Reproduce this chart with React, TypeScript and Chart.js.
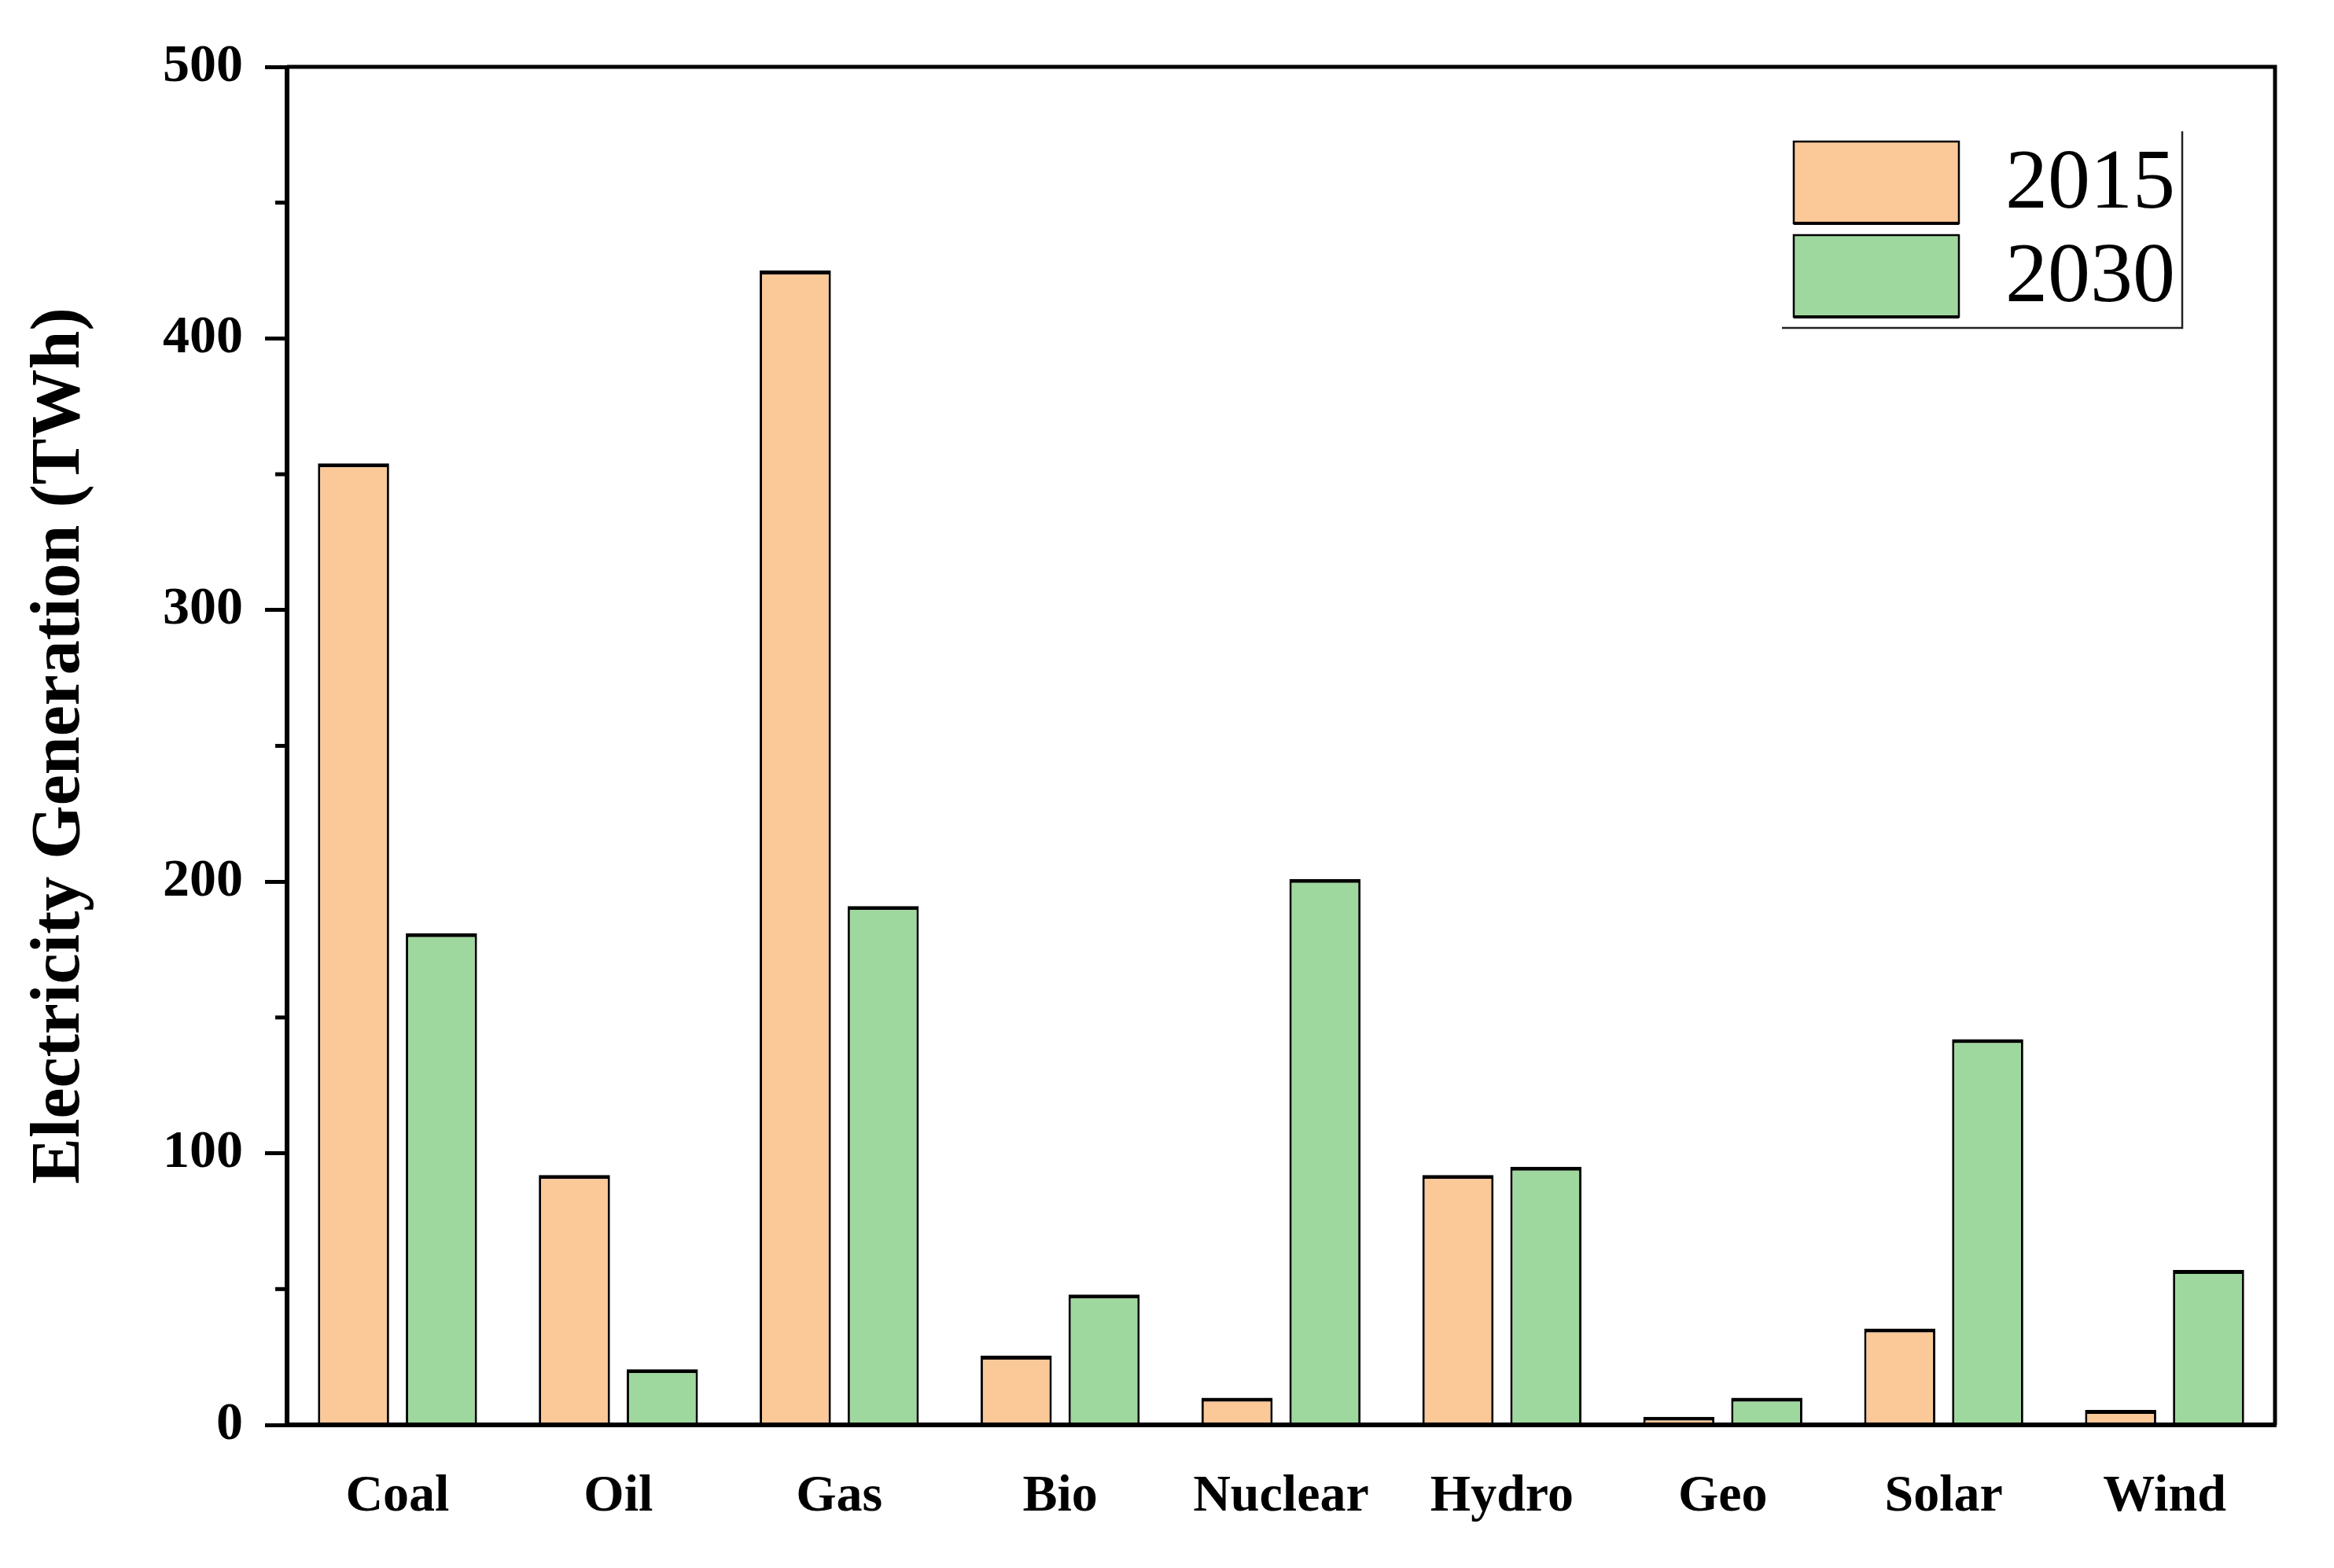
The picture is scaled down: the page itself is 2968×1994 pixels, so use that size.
import React, { useEffect, useRef } from 'react';
import { Chart, registerables } from 'chart.js';

Chart.register(...registerables);

const categories = ['Coal', 'Oil', 'Gas', 'Bio', 'Nuclear', 'Hydro', 'Geo', 'Solar', 'Wind'];
const values2015 = [354, 92, 425, 25.5, 10, 92, 3, 35.5, 5.5];
const values2030 = [181, 20.5, 191, 48, 201, 95, 10, 142, 57];
const seriesLabels = ['2015', '2030'];
const seriesColors = ['#FBC898', '#9ED89E'];
const yMin = 0;
const yMax = 500;
const yMajorStep = 100;
const yMinorTicks = [50, 150, 250, 350, 450];
const yTitle = 'Electricity Generation (TWh)';

const FONT = '"Liberation Serif", "Times New Roman", serif';

const framePlugin = {
  id: 'frameAndLegend',
  afterDatasetsDraw(chart: any) {
    const { ctx, chartArea } = chart;
    const { left, right, top, bottom } = chartArea;
    ctx.save();
    // minor ticks
    const yScale = chart.scales.y;
    ctx.strokeStyle = '#000';
    ctx.lineWidth = 5;
    for (const v of yMinorTicks) {
      const y = yScale.getPixelForValue(v);
      ctx.beginPath();
      ctx.moveTo(left - 15, y);
      ctx.lineTo(left, y);
      ctx.stroke();
    }
    // frame
    ctx.lineWidth = 5;
    ctx.beginPath();
    ctx.moveTo(left, top);
    ctx.lineTo(right, top);
    ctx.lineTo(right, bottom);
    ctx.stroke();
    ctx.lineWidth = 6;
    ctx.beginPath();
    ctx.moveTo(left - 2, bottom);
    ctx.lineTo(right + 2, bottom);
    ctx.moveTo(left, top - 2);
    ctx.lineTo(left, bottom + 3);
    ctx.stroke();

    // legend
    const boxRight = right - 118;
    const boxTop = top + 82;
    const boxLeft = boxRight - 509;
    const boxBottom = boxTop + 250;
    ctx.strokeStyle = '#222';
    ctx.lineWidth = 2.5;
    ctx.beginPath();
    ctx.moveTo(boxLeft, boxBottom);
    ctx.lineTo(boxRight, boxBottom);
    ctx.lineTo(boxRight, boxTop);
    ctx.stroke();

    const sw = 210;
    const sh = 104;
    const sx = boxLeft + 15;
    chart.data.datasets.forEach((ds: any, i: number) => {
      const sy = boxTop + 13 + i * 119;
      ctx.fillStyle = ds.backgroundColor;
      ctx.fillRect(sx, sy, sw, sh);
      ctx.strokeStyle = '#000';
      ctx.lineWidth = 2.5;
      ctx.strokeRect(sx, sy, sw, sh);
      ctx.lineWidth = 4;
      ctx.beginPath();
      ctx.moveTo(sx, sy + sh);
      ctx.lineTo(sx + sw, sy + sh);
      ctx.stroke();
      ctx.fillStyle = '#000';
      ctx.font = `108px ${FONT}`;
      ctx.textAlign = 'left';
      ctx.textBaseline = 'middle';
      ctx.fillText(ds.label, sx + sw + 59, sy + sh / 2 + 4);
    });
    ctx.restore();
  },
};

export default function App() {
  const canvasRef = useRef<HTMLCanvasElement | null>(null);

  useEffect(() => {
    document.body.style.margin = '0';
    const canvas = canvasRef.current;
    if (!canvas) return;
    const barBorder = { top: 5, left: 3, right: 3, bottom: 0 };
    const chart = new Chart(canvas, {
      type: 'bar',
      data: {
        labels: categories,
        datasets: [
          {
            label: seriesLabels[0],
            data: values2015,
            backgroundColor: seriesColors[0],
            borderColor: '#000',
            borderWidth: barBorder,
            borderSkipped: false,
            categoryPercentage: 0.796,
            barPercentage: 0.81,
          },
          {
            label: seriesLabels[1],
            data: values2030,
            backgroundColor: seriesColors[1],
            borderColor: '#000',
            borderWidth: barBorder,
            borderSkipped: false,
            categoryPercentage: 0.796,
            barPercentage: 0.81,
          },
        ],
      },
      options: {
        responsive: false,
        animation: false,
        devicePixelRatio: 1,
        layout: { padding: { top: 85, right: 75, bottom: 0, left: 0 } },
        plugins: {
          legend: { display: false },
          tooltip: { enabled: false },
          title: { display: false },
        },
        scales: {
          x: {
            grid: { display: false, drawTicks: false },
            border: { display: false },
            ticks: {
              color: '#000',
              font: { family: FONT, size: 66, weight: 'bold' },
              padding: 52,
              maxRotation: 0,
            },
            afterFit: (scale: any) => {
              scale.height = 182;
            },
          },
          y: {
            min: yMin,
            max: yMax,
            grid: {
              drawOnChartArea: false,
              drawTicks: true,
              tickLength: 28,
              tickWidth: 5,
              tickColor: '#000',
            },
            border: { display: false },
            ticks: {
              stepSize: yMajorStep,
              color: '#000',
              font: { family: FONT, size: 68, weight: 'bold' },
              padding: 28,
            },
            title: {
              display: true,
              text: yTitle,
              color: '#000',
              font: { family: FONT, size: 88, weight: 'bold' },
              padding: { top: 24, bottom: 0 },
            },
            afterFit: (scale: any) => {
              scale.width = 365;
            },
          },
        },
      },
      plugins: [framePlugin],
    });
    return () => chart.destroy();
  }, []);

  return (
    <div style={{ position: 'fixed', left: 0, top: 0, width: 2968, height: 1994, background: '#fff' }}>
      <canvas ref={canvasRef} width={2968} height={1994} style={{ width: 2968, height: 1994 }} />
    </div>
  );
}
